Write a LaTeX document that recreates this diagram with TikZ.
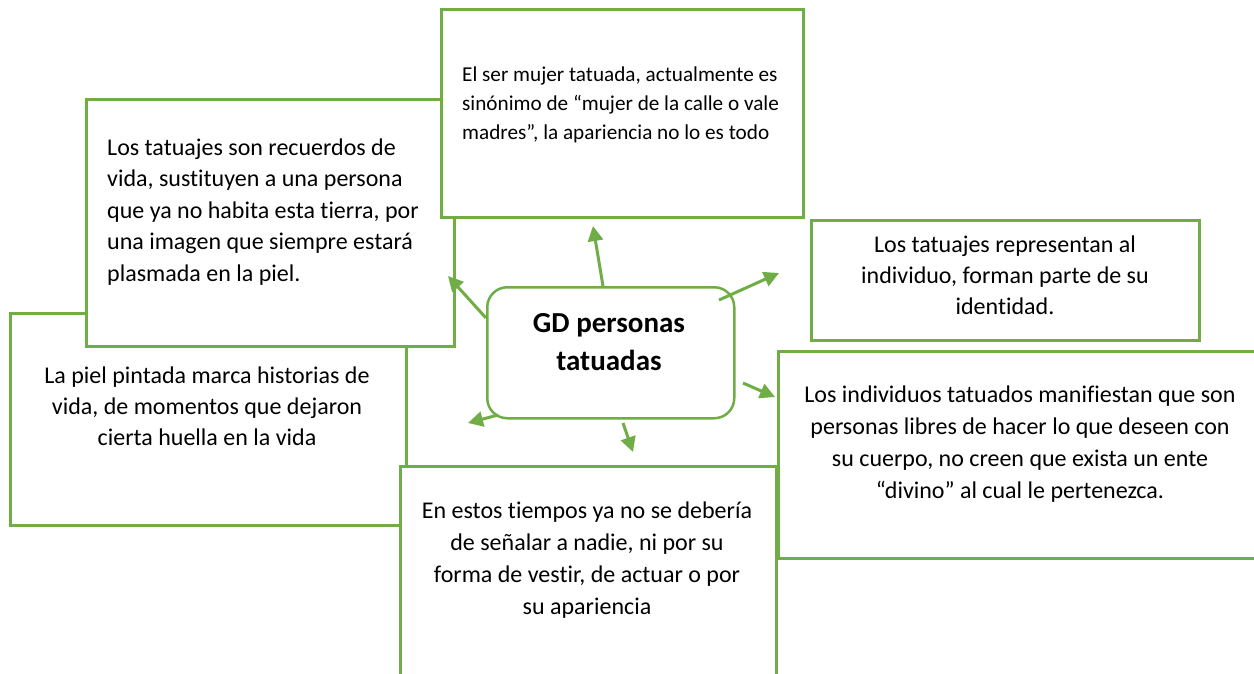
\documentclass[tikz,border=0pt]{standalone}
\usepackage{fontspec}
\setmainfont[Ligatures=NoCommon]{Carlito}
\usetikzlibrary{arrows.meta}
\definecolor{grn}{HTML}{70AD47}
\begin{document}
\begin{tikzpicture}[x=1pt,y=-1pt,
  box/.style={draw=grn, line width=2.5pt, fill=white, inner sep=0pt, anchor=north west},
  txt/.style={inner sep=0pt, text=black},
  link/.style={draw=grn, line width=3pt, -{Triangle[length=15pt,width=15pt]}}]
\useasboundingbox[fill=white] (0,0) rectangle (1254,673);
\clip (0,0) rectangle (1254,673);
% boxes (stacking order)
\node[box, minimum width=396pt, minimum height=212pt] (L2) at (9,312) {};
\node[box, minimum width=368pt, minimum height=247pt] (L1) at (85,98) {};
\node[box, minimum width=362pt, minimum height=208pt] (T) at (440,8) {};
\node[box, minimum width=376pt, minimum height=240pt] (B) at (399,465) {};
\node[box, minimum width=388pt, minimum height=120pt] (R1) at (810,219) {};
\node[box, minimum width=510pt, minimum height=207pt] (R2) at (777,350) {};
\node[box, rounded corners=20pt, minimum width=247pt, minimum height=131pt] (C) at (486,286) {};
% texts (anchored at the baseline of the last line)
\node[txt, anchor=base west, align=left, font=\fontsize{21.2}{29}\selectfont] (tT) at (462,139) {El ser mujer tatuada, actualmente es\\sinónimo de “mujer de la calle o vale\\madres”, la apariencia no lo es todo};
\node[txt, anchor=base west, align=left, font=\fontsize{24}{31.5}\selectfont] (tL1) at (107,281) {Los tatuajes son recuerdos de\\vida, sustituyen a una persona\\que ya no habita esta tierra, por\\una imagen que siempre estará\\plasmada en la piel.};
\node[txt, anchor=base, align=center, font=\fontsize{24}{31}\selectfont] (tL2) at (207,445) {La piel pintada marca historias de\\vida, de momentos que dejaron\\cierta huella en la vida};
\node[txt, anchor=base, align=center, font=\fontsize{24}{31}\selectfont] (tR1) at (1005,314) {Los tatuajes representan al\\individuo, forman parte de su\\identidad.};
\node[txt, anchor=base, align=center, font=\fontsize{24}{31.7}\selectfont] (tR2) at (1020,498) {Los individuos tatuados manifiestan que son\\personas libres de hacer lo que deseen con\\su cuerpo, no creen que exista un ente\\“divino” al cual le pertenezca.};
\node[txt, anchor=base, align=center, font=\fontsize{24}{31.7}\selectfont] (tB) at (587,614) {En estos tiempos ya no se debería\\de señalar a nadie, ni por su\\forma de vestir, de actuar o por\\su apariencia};
\node[txt, anchor=base, align=center, font=\fontsize{29}{38}\selectfont\bfseries] (tC) at (609,370) {GD personas\\tatuadas};
% arrow end points
\coordinate (a1s) at (603,286); \coordinate (a1e) at (593,226);
\coordinate (a2s) at (486,318); \coordinate (a2e) at (448,276);
\coordinate (a3s) at (719,300); \coordinate (a3e) at (779,273);
\coordinate (a4s) at (743,383); \coordinate (a4e) at (775,397);
\coordinate (a5s) at (498,415); \coordinate (a5e) at (468,423);
\coordinate (a6s) at (623,423); \coordinate (a6e) at (633,452);
\foreach \i in {1,...,6} {\draw[link] (a\i s) -- (a\i e);}
\end{tikzpicture}
\end{document}
